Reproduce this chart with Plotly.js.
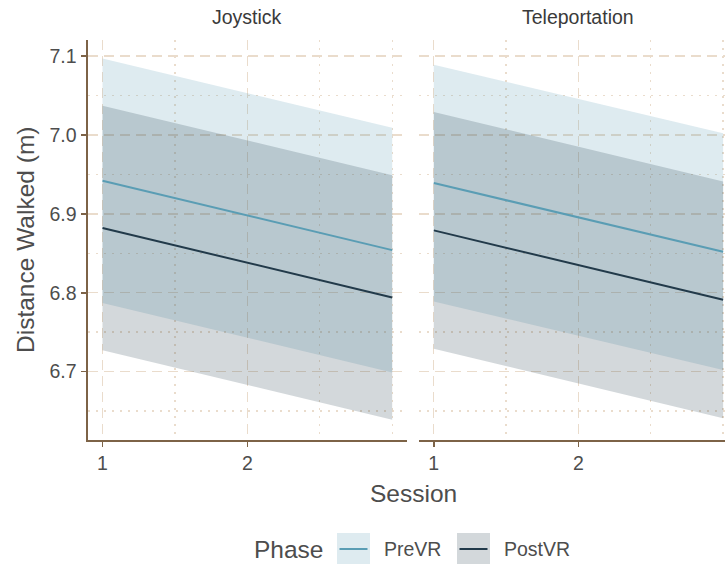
<!DOCTYPE html>
<html>
<head>
<meta charset="utf-8">
<script src="https://cdn.plot.ly/plotly-3.0.1.min.js"></script>
<style>
  html, body { margin: 0; padding: 0; background: #ffffff; overflow: hidden; }
  #chart { width: 725px; height: 564px; }
</style>
</head>
<body>
<div id="chart"></div>
<script>
// Model-predicted distance walked per session, by locomotion condition and phase
const sessions = [1, 3];

const joyPreMean  = [6.942, 6.854];
const joyPreLow   = [6.787, 6.699];
const joyPreHigh  = [7.097, 7.009];
const joyPostMean = [6.882, 6.794];
const joyPostLow  = [6.727, 6.639];
const joyPostHigh = [7.037, 6.949];

const telePreMean  = [6.939, 6.852];
const telePreLow   = [6.789, 6.702];
const telePreHigh  = [7.089, 7.002];
const telePostMean = [6.879, 6.791];
const telePostLow  = [6.729, 6.641];
const telePostHigh = [7.029, 6.941];

const panelTitles = ['Joystick', 'Teleportation'];
const phaseNames = ['PreVR', 'PostVR'];
const xTickVals = [1, 2];

// styling
const FONT = 'Liberation Sans, Arial, Helvetica, sans-serif';
const preLine = '#5a9db4';
const postLine = '#223a4a';
function fillOf(hex, a) {
  const n = parseInt(hex.slice(1), 16);
  return 'rgba(' + (n >> 16) + ',' + ((n >> 8) & 255) + ',' + (n & 255) + ',' + a + ')';
}
const preFill = fillOf(preLine, 0.2);
const postFill = fillOf(postLine, 0.2);
const axisBrown = '#7d6347';
const gridBeige = '#eadccc';
const tickGrey = '#4d4d4d';
const stripGrey = '#3a3a3a';
const TICK_SIZE = 19.5, STRIP_SIZE = 19.5, TITLE_SIZE = 24.5, KEY_SIZE = 19.5;

// closed polygon for a confidence band
function band(lo, hi, fill, xa, ya, name) {
  return {
    type: 'scatter', mode: 'lines',
    x: sessions.concat(sessions.slice().reverse()),
    y: lo.concat(hi.slice().reverse()),
    fill: 'toself', fillcolor: fill,
    line: { width: 0 }, hoverinfo: 'skip',
    xaxis: xa, yaxis: ya, showlegend: false, name: name
  };
}
function trend(mean, color, xa, ya, name) {
  return {
    type: 'scatter', mode: 'lines',
    x: sessions, y: mean,
    line: { color: color, width: 2 },
    xaxis: xa, yaxis: ya, showlegend: false, name: name
  };
}

const traces = [
  band(joyPreLow, joyPreHigh, preFill, 'x', 'y', phaseNames[0]),
  band(joyPostLow, joyPostHigh, postFill, 'x', 'y', phaseNames[1]),
  trend(joyPreMean, preLine, 'x', 'y', phaseNames[0]),
  trend(joyPostMean, postLine, 'x', 'y', phaseNames[1]),
  band(telePreLow, telePreHigh, preFill, 'x2', 'y2', phaseNames[0]),
  band(telePostLow, telePostHigh, postFill, 'x2', 'y2', phaseNames[1]),
  trend(telePreMean, preLine, 'x2', 'y2', phaseNames[0]),
  trend(telePostMean, postLine, 'x2', 'y2', phaseNames[1])
];

const gridDash = '10px,6px';
const gridDot = '2px,6px';

function xAxis(domain, range, anchor) {
  return {
    domain: domain, range: range, anchor: anchor,
    tickmode: 'array', tickvals: xTickVals, ticktext: xTickVals.map(String),
    ticks: 'outside', ticklen: 5, tickwidth: 1.6, tickcolor: axisBrown,
    tickfont: { family: FONT, size: TICK_SIZE, color: tickGrey },
    showline: true, linecolor: axisBrown, linewidth: 1.6,
    showgrid: true, gridcolor: gridBeige, gridwidth: 1.4, griddash: gridDash,
    minor: { tickmode: 'array', tickvals: [1.5, 2.5, 3], showgrid: true,
             gridcolor: gridBeige, gridwidth: 1.4, griddash: gridDot, ticks: '' },
    zeroline: false, fixedrange: true
  };
}
function yAxis(anchor, labels) {
  return {
    anchor: anchor, domain: [0, 1], range: [6.6133, 7.1203],
    tickmode: 'linear', tick0: 6.7, dtick: 0.1, tickformat: '.1f',
    ticks: labels ? 'outside' : '', ticklen: 5, tickwidth: 1.6, tickcolor: axisBrown,
    showticklabels: labels, ticklabelstandoff: 1,
    tickfont: { family: FONT, size: TICK_SIZE, color: tickGrey },
    showline: labels, linecolor: axisBrown, linewidth: 1.6,
    showgrid: true, gridcolor: gridBeige, gridwidth: 1.4, griddash: gridDash,
    minor: { tick0: 6.65, dtick: 0.05, showgrid: true,
             gridcolor: gridBeige, gridwidth: 1.4, griddash: gridDot, ticks: '' },
    zeroline: false, fixedrange: true
  };
}

// pixel helpers for items placed around the plot area (plot area: x 88..725, y 40..440)
const L = 88, T = 40, W = 637, H = 400;
const px = v => (v - L) / W;
const py = v => (T + H - v) / H;

const legendY0 = 533, legendY1 = 565, legendMid = 549;
const shapes = [
  { type: 'rect', xref: 'paper', yref: 'paper', x0: px(337), x1: px(370), y0: py(legendY1), y1: py(legendY0),
    fillcolor: preFill, line: { width: 0 } },
  { type: 'line', xref: 'paper', yref: 'paper', x0: px(339.5), x1: px(367.5), y0: py(legendMid), y1: py(legendMid),
    line: { color: preLine, width: 2 } },
  { type: 'rect', xref: 'paper', yref: 'paper', x0: px(457), x1: px(490), y0: py(legendY1), y1: py(legendY0),
    fillcolor: postFill, line: { width: 0 } },
  { type: 'line', xref: 'paper', yref: 'paper', x0: px(459.5), x1: px(487.5), y0: py(legendMid), y1: py(legendMid),
    line: { color: postLine, width: 2 } }
];

const annotations = [
  { text: panelTitles[0], xref: 'x', x: 2, yref: 'paper', y: 1, yanchor: 'middle', yshift: 23,
    showarrow: false, font: { family: FONT, size: STRIP_SIZE, color: stripGrey } },
  { text: panelTitles[1], xref: 'x2', x: 2, yref: 'paper', y: 1, yanchor: 'middle', yshift: 23,
    showarrow: false, font: { family: FONT, size: STRIP_SIZE, color: stripGrey } },
  { text: 'Session', xref: 'paper', x: px(413), yref: 'paper', y: py(493), yanchor: 'middle', xanchor: 'center',
    showarrow: false, font: { family: FONT, size: TITLE_SIZE, color: tickGrey } },
  { text: 'Distance Walked (m)', xref: 'paper', x: px(25), yref: 'paper', y: py(240), textangle: -90,
    xanchor: 'center', yanchor: 'middle',
    showarrow: false, font: { family: FONT, size: TITLE_SIZE, color: tickGrey } },
  { text: 'Phase', xref: 'paper', x: px(252), yref: 'paper', y: py(legendMid), xanchor: 'left', yanchor: 'middle',
    showarrow: false, font: { family: FONT, size: TITLE_SIZE, color: tickGrey } },
  { text: phaseNames[0], xref: 'paper', x: px(382), yref: 'paper', y: py(legendMid), xanchor: 'left', yanchor: 'middle',
    showarrow: false, font: { family: FONT, size: KEY_SIZE, color: tickGrey } },
  { text: phaseNames[1], xref: 'paper', x: px(502), yref: 'paper', y: py(legendMid), xanchor: 'left', yanchor: 'middle',
    showarrow: false, font: { family: FONT, size: KEY_SIZE, color: tickGrey } }
];

const layout = {
  width: 725, height: 564,
  margin: { l: L, r: 0, t: T, b: 564 - T - H, pad: 0 },
  paper_bgcolor: '#ffffff', plot_bgcolor: '#ffffff',
  showlegend: false,
  font: { family: FONT, color: tickGrey },
  xaxis: xAxis([0, px(406.7)], [0.9, 3.1], 'y'),
  xaxis2: xAxis([px(419.3), 1], [0.9, 3.013], 'y2'),
  yaxis: yAxis('x', true),
  yaxis2: Object.assign(yAxis('x2', false), { matches: 'y' }),
  shapes: shapes,
  annotations: annotations
};

Plotly.newPlot('chart', traces, layout, { staticPlot: true, displayModeBar: false });
</script>
</body>
</html>
